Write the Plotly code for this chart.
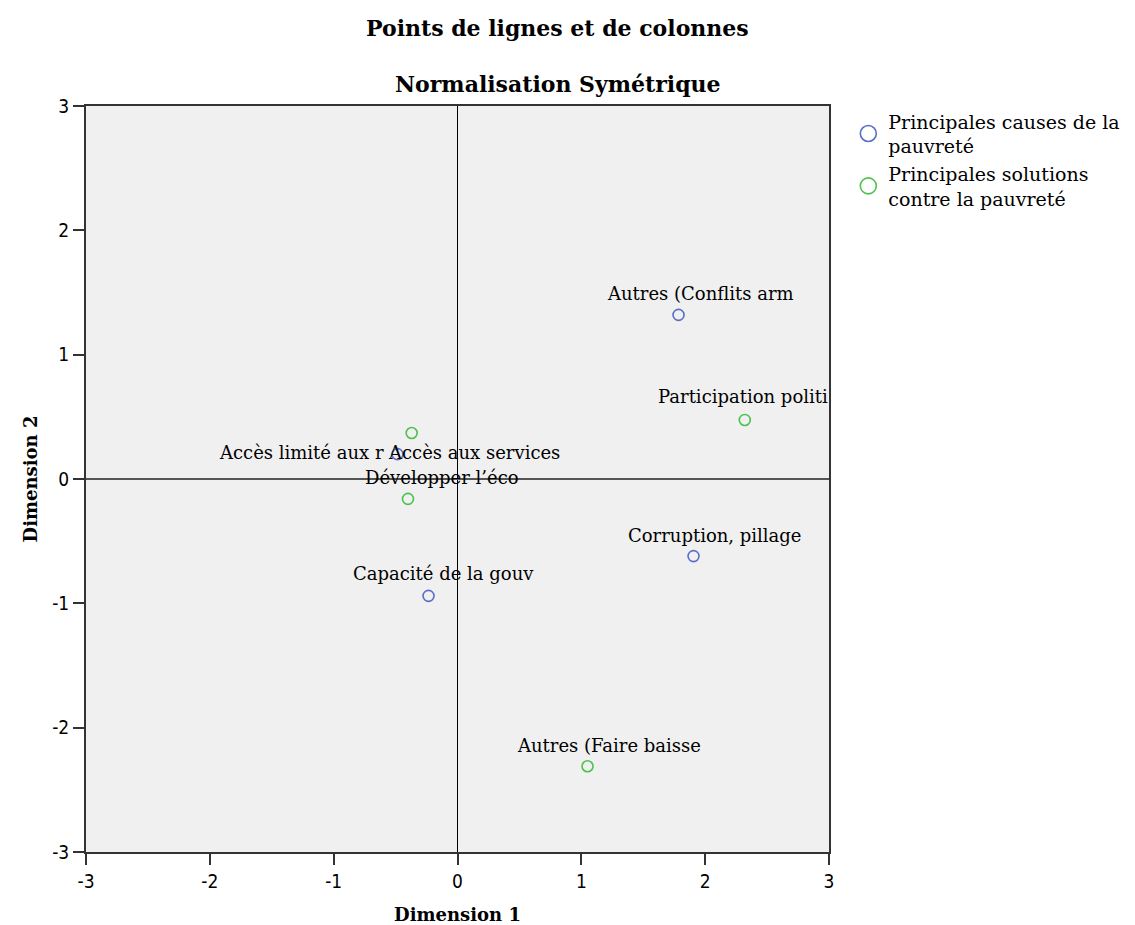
import plotly.graph_objects as go

# Points-lignes (causes) et points-colonnes (solutions)
causes_labels = ["Autres (Conflits arm", "Corruption, pillage",
                 "Capacité de la gouv", "Accès limité aux r"]
causes_dim1 = [1.785, 1.906, -0.234, -0.485]
causes_dim2 = [1.32, -0.62, -0.94, 0.20]

solutions_labels = ["Participation politi", "Autres (Faire baisse",
                    "Développer l’éco", "Accès aux services"]
solutions_dim1 = [2.32, 1.05, -0.40, -0.37]
solutions_dim2 = [0.475, -2.31, -0.16, 0.37]

ticks = [-3, -2, -1, 0, 1, 2, 3]

# label offsets in pixels (xshift, yshift, xanchor)
causes_offsets = [(22, 21, "center"), (21, 21, "center"),
                  (15, 22, "center"), (-11, 2, "right")]
solutions_offsets = [(-2, 23, "center"), (21, 21, "center"),
                     (34, 21, "center"), (62, -19, "center")]

BLUE = "#5a6ec8"
GREEN = "#4cc24c"
FONT = "DejaVu Serif"
TICKFONT = "Liberation Sans Narrow, DejaVu Sans Condensed, Arial Narrow, sans-serif"

fig = go.Figure()

for name, xs, ys, col in [
    ("Principales causes de la<br>pauvreté", causes_dim1, causes_dim2, BLUE),
    ("Principales solutions<br>contre la pauvreté", solutions_dim1, solutions_dim2, GREEN),
]:
    fig.add_trace(go.Scatter(
        x=xs, y=ys, mode="markers", showlegend=False,
        marker=dict(symbol="circle-open", size=11, color=col,
                    line=dict(width=1.6, color=col)),
    ))
    # bigger symbol for the legend only
    fig.add_trace(go.Scatter(
        x=[None], y=[None], mode="markers", name=name,
        marker=dict(symbol="circle-open", size=22, color=col,
                    line=dict(width=1.6, color=col)),
    ))

for labels, xs, ys, offs in [
    (causes_labels, causes_dim1, causes_dim2, causes_offsets),
    (solutions_labels, solutions_dim1, solutions_dim2, solutions_offsets),
]:
    for lab, x, y, (dx, dy, anc) in zip(labels, xs, ys, offs):
        fig.add_annotation(x=x, y=y, text=lab, showarrow=False,
                           xshift=dx, yshift=dy, xanchor=anc, yanchor="middle",
                           font=dict(family=FONT, size=18, color="black"))

# titles
fig.add_annotation(text="<b>Points de lignes et de colonnes</b>",
                   xref="paper", yref="paper", x=0.635, y=1.0, yshift=78,
                   yanchor="middle", showarrow=False,
                   font=dict(family=FONT, size=22))
fig.add_annotation(text="<b>Normalisation Symétrique</b>",
                   xref="paper", yref="paper", x=0.635, y=1.0, yshift=22,
                   yanchor="middle", showarrow=False,
                   font=dict(family=FONT, size=22))

axis_common = dict(
    range=[-3, 3], tickvals=ticks, ticktext=[str(t) for t in ticks],
    showgrid=False, showline=True, linecolor="#333333", linewidth=2,
    mirror=True, ticks="outside", ticklen=11, tickwidth=1.5,
    tickcolor="#333333",
    tickfont=dict(family=TICKFONT, size=19, color="black"),
    zeroline=True,
)

fig.update_xaxes(**axis_common, zerolinecolor="black", zerolinewidth=1.3,
                 title=dict(text="<b>Dimension 1</b>",
                            font=dict(family=FONT, size=18), standoff=18))
fig.update_yaxes(**axis_common, zerolinecolor="#555555", zerolinewidth=2.2,
                 title=dict(text="<b>Dimension 2</b>",
                            font=dict(family=FONT, size=18), standoff=10))

fig.update_layout(
    width=1127, height=917,
    margin=dict(l=78, r=306, t=98, b=73, autoexpand=False),
    paper_bgcolor="white", plot_bgcolor="#f0f0f0",
    font=dict(family=FONT, color="black"),
    legend=dict(x=1.026, y=1.005, xanchor="left", yanchor="top",
                font=dict(family=FONT, size=19), tracegroupgap=4,
                bgcolor="rgba(0,0,0,0)"),
)

fig.write_html("out.html")
